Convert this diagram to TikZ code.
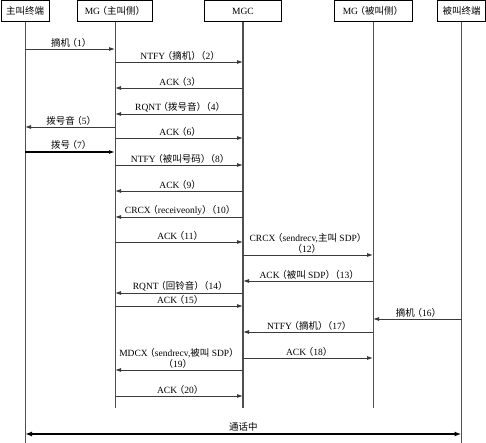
\documentclass[tikz,border=0pt]{standalone}
\usepackage{fontspec}
\setmainfont{Liberation Serif}
\newfontfamily\cjk{Noto Sans CJK SC}
\usetikzlibrary{arrows.meta}
\newcommand\zh[1]{{\cjk #1}}
\newcommand\lp{\hspace{-0.25em}\zh{（}}
\newcommand\rp{\zh{）}\hspace{-0.25em}}
\definecolor{lifec}{HTML}{505050}
\definecolor{arrc}{HTML}{3A3A3A}
\tikzset{
  head/.style={draw=black, line width=0.6pt, minimum height=21pt, inner sep=0pt, font=\fontsize{9.5}{10}\selectfont, anchor=north},
  life/.style={draw=lifec, line width=0.8pt},
  arr/.style={draw=arrc, line width=0.8pt, -{Latex[length=6pt,width=4pt]}},
  bold/.style={draw=black, line width=1.6pt},
  lbl/.style={above, inner sep=1.5pt, font=\fontsize{9.5}{10.5}\selectfont, align=center, text=black},
}
\newcommand\msg[4]{\draw[arr] (#1 |- 0,#3) -- node[lbl]{#4} (#2 |- 0,#3);}
\begin{document}
\begin{tikzpicture}[x=1pt,y=-1pt]
\useasboundingbox (0,0) rectangle (486,443);
% headers
\node[head, minimum width=48pt] (h1) at (25,0.3) {\zh{主叫终端}};
\node[head, minimum width=75pt] (h2) at (115,0.3) {MG\lp\zh{主叫侧}\rp};
\node[head, minimum width=77pt] (h3) at (243,0.3) {MGC};
\node[head, minimum width=78pt] (h4) at (373,0.3) {MG\lp\zh{被叫侧}\rp};
\node[head, minimum width=48pt] (h5) at (461.5,0.3) {\zh{被叫终端}};
% lifeline ends
\coordinate (e1) at (25,443);
\coordinate (e2) at (115,408);
\coordinate (e3) at (243,408);
\coordinate (e4) at (373,408);
\coordinate (e5) at (461.5,443);
\draw[life] (h1.south) -- (e1);
\draw[life] (h2.south) -- (e2);
\draw[life, line width=1.3pt] (h3.south) -- (e3);
\draw[life] (h4.south) -- (e4);
\draw[life] (h5.south) -- (e5);
% messages
\msg{h1}{h2}{49}{\zh{摘机}\lp1\rp}
\msg{h2}{h3}{62}{NTFY\lp\zh{摘机}\rp\lp2\rp}
\msg{h3}{h2}{88}{ACK\lp3\rp}
\msg{h3}{h2}{114}{RQNT\lp\zh{拨号音}\rp\lp4\rp}
\msg{h2}{h1}{127}{\zh{拨号音}\lp5\rp}
\msg{h2}{h3}{138}{ACK\lp6\rp}
\draw[arr, bold] (h1 |- 0,152) -- node[lbl]{\zh{拨号}\lp7\rp} (h2 |- 0,152);
\msg{h2}{h3}{165}{NTFY\lp\zh{被叫号码}\rp\lp8\rp}
\msg{h3}{h2}{191}{ACK\lp9\rp}
\msg{h3}{h2}{217}{CRCX\lp receiveonly\rp\lp10\rp}
\msg{h2}{h3}{242}{ACK\lp11\rp}
\msg{h3}{h4}{255}{CRCX\lp sendrecv,\zh{主叫} SDP\rp\\\lp12\rp}
\msg{h4}{h3}{281}{ACK\lp\zh{被叫} SDP\rp\lp13\rp}
\msg{h3}{h2}{293}{RQNT\lp\zh{回铃音}\rp\lp14\rp}
\msg{h2}{h3}{306}{ACK\lp15\rp}
\msg{h5}{h4}{319}{\zh{摘机}\lp16\rp}
\msg{h4}{h3}{332}{NTFY\lp\zh{摘机}\rp\lp17\rp}
\msg{h3}{h4}{358}{ACK\lp18\rp}
\msg{h3}{h2}{370}{MDCX\lp sendrecv,\zh{被叫} SDP\rp\\\lp19\rp}
\msg{h2}{h3}{396}{ACK\lp20\rp}
\draw[bold, {Latex[length=7pt,width=5pt]}-{Latex[length=7pt,width=5pt]}] (h1 |- 0,434) -- node[lbl]{\zh{通话中}} (h5 |- 0,434);
\end{tikzpicture}
\end{document}
